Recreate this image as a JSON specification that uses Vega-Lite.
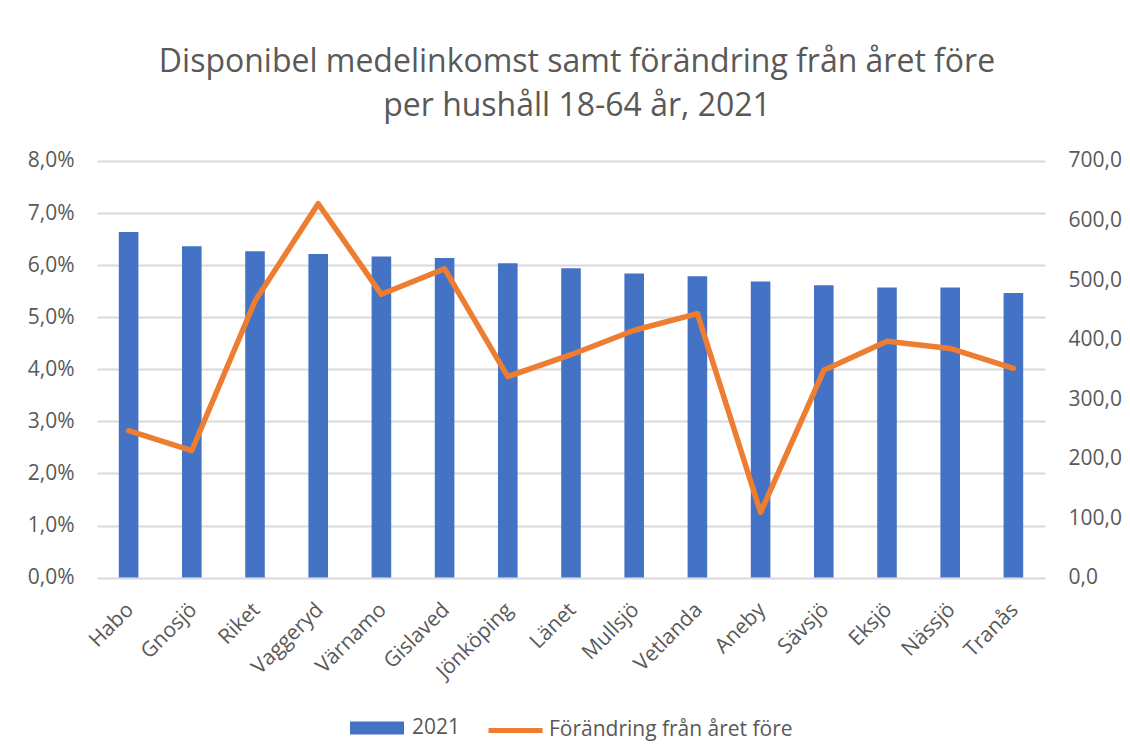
{
  "$schema": "https://vega.github.io/schema/vega-lite/v6.json",
  "width": 948,
  "height": 416.6,
  "autosize": {"type": "none"},
  "padding": {"left": 97, "top": 161, "right": 85, "bottom": 177},
  "background": "white",
  "title": {
    "text": ["Disponibel medelinkomst samt förändring från året före", "per hushåll 18-64 år, 2021"],
    "fontSize": 32,
    "font": "Open Sans",
    "fontWeight": "normal",
    "color": "#595959",
    "lineHeight": 44,
    "offset": 27,
    "dx": 6
  },
  "data": {
    "values": [
      {"kommun": "Habo", "inkomst": 580.7, "forandring": 0.0282},
      {"kommun": "Gnosjö", "inkomst": 556.7, "forandring": 0.0244},
      {"kommun": "Riket", "inkomst": 548.3, "forandring": 0.0531},
      {"kommun": "Vaggeryd", "inkomst": 543.8, "forandring": 0.0718},
      {"kommun": "Värnamo", "inkomst": 539.4, "forandring": 0.0544},
      {"kommun": "Gislaved", "inkomst": 537.1, "forandring": 0.0593},
      {"kommun": "Jönköping", "inkomst": 528.1, "forandring": 0.0386},
      {"kommun": "Länet", "inkomst": 519.7, "forandring": 0.0428},
      {"kommun": "Mullsjö", "inkomst": 510.8, "forandring": 0.0475},
      {"kommun": "Vetlanda", "inkomst": 506.3, "forandring": 0.0507},
      {"kommun": "Aneby", "inkomst": 497.4, "forandring": 0.0125},
      {"kommun": "Sävsjö", "inkomst": 491.2, "forandring": 0.0398},
      {"kommun": "Eksjö", "inkomst": 487.3, "forandring": 0.0454},
      {"kommun": "Nässjö", "inkomst": 487.3, "forandring": 0.0440},
      {"kommun": "Tranås", "inkomst": 478.2, "forandring": 0.0402}
    ]
  },
  "layer": [
    {
      "mark": {"type": "bar", "width": {"band": 0.31}, "color": "#4472C4"},
      "encoding": {
        "x": {
          "field": "kommun",
          "type": "nominal",
          "sort": null,
          "scale": {"paddingInner": 0, "paddingOuter": 0},
          "axis": {
            "title": null,
            "labelAngle": -45,
            "labelFontSize": 21,
            "labelFont": "Open Sans",
            "labelColor": "#595959",
            "labelOverlap": false,
            "labelLimit": 300,
            "domain": false,
            "ticks": false,
            "grid": false,
            "labelPadding": 21,
            "labelOffset": -6
          }
        },
        "y": {
          "field": "inkomst",
          "type": "quantitative",
          "scale": {"domain": [0, 700], "nice": false, "zero": true},
          "axis": {
            "orient": "right",
            "title": null,
            "values": [0, 100, 200, 300, 400, 500, 600, 700],
            "labelExpr": "replace(format(datum.value, '.1f'), '.', ',')",
            "grid": false,
            "domain": false,
            "ticks": false,
            "labelPadding": 23,
            "labelFontSize": 21,
            "labelFont": "Open Sans",
            "labelColor": "#595959"
          }
        },
        "color": {
          "datum": "2021",
          "scale": {"range": ["#4472C4"]},
          "legend": {
            "orient": "bottom",
            "direction": "horizontal",
            "title": null,
            "offset": 18,
            "symbolType": "M-1,-0.24H1V0.24H-1Z",
            "symbolSize": 2916,
            "symbolStrokeWidth": 0,
            "labelFontSize": 21,
            "labelFont": "Open Sans",
            "labelColor": "#595959",
            "labelOffset": 8,
            "labelLimit": 400
          }
        }
      }
    },
    {
      "mark": {"type": "line", "strokeWidth": 5.5, "strokeJoin": "round", "strokeCap": "round"},
      "encoding": {
        "x": {"field": "kommun", "type": "nominal", "sort": null},
        "y": {
          "field": "forandring",
          "type": "quantitative",
          "scale": {"domain": [0, 0.08], "nice": false},
          "axis": {
            "orient": "left",
            "title": null,
            "values": [0, 0.01, 0.02, 0.03, 0.04, 0.05, 0.06, 0.07, 0.08],
            "labelExpr": "replace(format(datum.value, '.1%'), '.', ',')",
            "grid": true,
            "gridColor": "#d9d9d9",
            "gridWidth": 2,
            "domain": false,
            "ticks": false,
            "labelPadding": 23,
            "labelFontSize": 21,
            "labelFont": "Open Sans",
            "labelColor": "#595959"
          }
        },
        "stroke": {
          "datum": "Förändring från året före",
          "scale": {"range": ["#ED7D31"]},
          "legend": {
            "orient": "bottom",
            "direction": "horizontal",
            "title": null,
            "offset": 18,
            "symbolType": "stroke",
            "symbolSize": 2916,
            "symbolStrokeWidth": 5,
            "labelFontSize": 21,
            "labelFont": "Open Sans",
            "labelColor": "#595959",
            "labelOffset": 4,
            "labelLimit": 400
          }
        }
      }
    }
  ],
  "resolve": {"scale": {"y": "independent"}},
  "config": {
    "view": {"stroke": null},
    "legend": {"layout": {"bottom": {"anchor": "middle", "margin": 25}}}
  }
}
